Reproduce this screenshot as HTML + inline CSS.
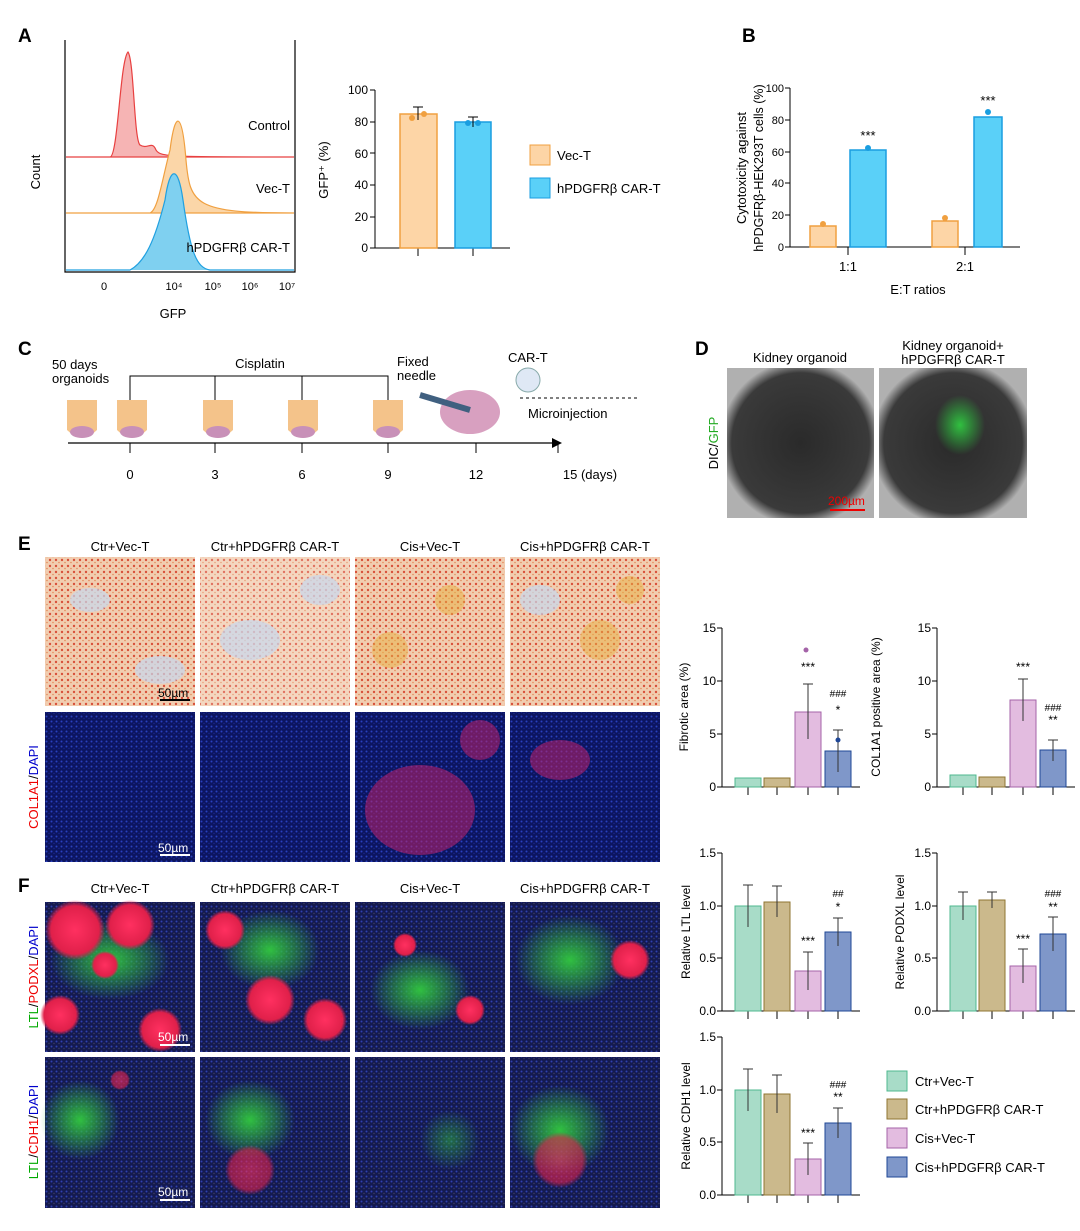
<!DOCTYPE html>
<html><head><meta charset="utf-8"><style>
body{margin:0;background:#fff;}
svg text{font-family:"Liberation Sans",sans-serif;}
</style></head><body>
<svg width="1080" height="1226" viewBox="0 0 1080 1226" xmlns="http://www.w3.org/2000/svg">
<defs>
<radialGradient id="red" cx="50%" cy="50%" r="50%"><stop offset="0" stop-color="#ff3060"/><stop offset="0.8" stop-color="#e0204a"/><stop offset="1" stop-color="#e0204a" stop-opacity="0"/></radialGradient>
<radialGradient id="grn" cx="50%" cy="50%" r="50%"><stop offset="0" stop-color="#30c040"/><stop offset="1" stop-color="#30c040" stop-opacity="0"/></radialGradient>
<radialGradient id="gray" cx="50%" cy="50%" r="55%"><stop offset="0" stop-color="#2a2a2a"/><stop offset="0.85" stop-color="#3a3a3a"/><stop offset="1" stop-color="#b0b0b0"/></radialGradient>
<pattern id="dots" width="6" height="6" patternUnits="userSpaceOnUse"><rect width="6" height="6" fill="#f1cdb0"/><circle cx="2" cy="2" r="1.2" fill="#d8503a"/><circle cx="5" cy="4.5" r="0.8" fill="#e48a5a"/></pattern>
<pattern id="blu" width="5" height="5" patternUnits="userSpaceOnUse"><rect width="5" height="5" fill="#0c1560"/><circle cx="1.5" cy="1.5" r="1" fill="#2a40c0"/><circle cx="4" cy="3.5" r="0.7" fill="#1a2890"/></pattern>
<pattern id="bluF" width="5" height="5" patternUnits="userSpaceOnUse"><rect width="5" height="5" fill="#141a50"/><circle cx="1.5" cy="1.5" r="1" fill="#3040b0"/><circle cx="4" cy="3.5" r="0.7" fill="#404060"/></pattern>
</defs>
<g font-size="13" fill="#000">
<!-- A -->
<text x="18" y="42" font-size="19" font-weight="bold">A</text>
<path d="M65 40 V272 H295 V40" fill="none" stroke="#000" stroke-width="1.2"/>
<path d="M66 157 H110 C118 157,120 60,128 52 C134 60,134 140,140 145 C148 150,152 140,156 150 C160 157,170 157,294 157 Z" fill="#f6b4b4" stroke="#e84040" stroke-width="1.2"/>
<path d="M66 213 H150 C158 210,162 180,170 150 C175 110,182 110,186 160 C190 205,195 213,294 213 Z" fill="#fbd6a8" stroke="#f0a040" stroke-width="1.2"/>
<path d="M66 270 H130 C145 262,155 240,165 200 C170 165,178 165,183 200 C190 250,196 268,210 270 H294" fill="#7fd0f0" stroke="#20a0e0" stroke-width="1.2"/>
<text x="290" y="130" text-anchor="end">Control</text>
<text x="290" y="193" text-anchor="end">Vec-T</text>
<text x="290" y="252" text-anchor="end">hPDGFRβ CAR-T</text>
<text x="40" y="172" transform="rotate(-90 40 172)" text-anchor="middle">Count</text>
<g font-size="11" text-anchor="middle"><text x="104" y="290">0</text><text x="174" y="290">10⁴</text><text x="213" y="290">10⁵</text><text x="250" y="290">10⁶</text><text x="287" y="290">10⁷</text></g>
<text x="173" y="318" text-anchor="middle">GFP</text>
<!-- A bar -->
<path d="M375 90 V248 H510" fill="none" stroke="#000"/>
<g font-size="12" text-anchor="end"><text x="368" y="94">100</text><text x="368" y="126">80</text><text x="368" y="158">60</text><text x="368" y="189">40</text><text x="368" y="221">20</text><text x="368" y="252">0</text></g>
<path d="M370 90H375M370 122H375M370 153H375M370 185H375M370 217H375M370 248H375M418 248V256M473 248V256" stroke="#000"/>
<rect x="400" y="114" width="37" height="134" fill="#fdd5a6" stroke="#f0a040" stroke-width="1.5"/>
<rect x="455" y="122" width="36" height="126" fill="#5ad0f8" stroke="#1a9ee0" stroke-width="1.5"/>
<path d="M418 107V120M413 107H423M473 117V127M468 117H478" stroke="#000"/>
<circle cx="412" cy="118" r="3" fill="#f0a040"/><circle cx="424" cy="114" r="3" fill="#f0a040"/><circle cx="468" cy="123" r="3" fill="#1a9ee0"/><circle cx="478" cy="123" r="3" fill="#1a9ee0"/>
<text x="328" y="170" transform="rotate(-90 328 170)" text-anchor="middle">GFP⁺ (%)</text>
<rect x="530" y="145" width="20" height="20" fill="#fdd5a6" stroke="#f0a040"/><text x="557" y="160">Vec-T</text>
<rect x="530" y="178" width="20" height="20" fill="#5ad0f8" stroke="#1a9ee0"/><text x="557" y="193">hPDGFRβ CAR-T</text>
<!-- B -->
<text x="742" y="42" font-size="19" font-weight="bold">B</text>
<path d="M790 88 V247 H1020" fill="none" stroke="#000"/>
<g font-size="11" text-anchor="end"><text x="784" y="92">100</text><text x="784" y="124">80</text><text x="784" y="156">60</text><text x="784" y="187">40</text><text x="784" y="219">20</text><text x="784" y="251">0</text></g>
<path d="M785 88H790M785 120H790M785 152H790M785 183H790M785 215H790M785 247H790M848 247V255M965 247V255" stroke="#000"/>
<rect x="810" y="226" width="26" height="21" fill="#fdd5a6" stroke="#f0a040" stroke-width="1.5"/>
<rect x="850" y="150" width="36" height="97" fill="#5ad0f8" stroke="#1a9ee0" stroke-width="1.5"/>
<rect x="932" y="221" width="26" height="26" fill="#fdd5a6" stroke="#f0a040" stroke-width="1.5"/>
<rect x="974" y="117" width="28" height="130" fill="#5ad0f8" stroke="#1a9ee0" stroke-width="1.5"/>
<circle cx="823" cy="224" r="3" fill="#f0a040"/><circle cx="945" cy="218" r="3" fill="#f0a040"/><circle cx="868" cy="148" r="3" fill="#1a9ee0"/><circle cx="988" cy="112" r="3" fill="#1a9ee0"/>
<text x="868" y="140" text-anchor="middle">***</text><text x="988" y="105" text-anchor="middle">***</text>
<text x="848" y="271" text-anchor="middle">1:1</text><text x="965" y="271" text-anchor="middle">2:1</text>
<text x="918" y="294" text-anchor="middle">E:T ratios</text>
<text x="746" y="168" transform="rotate(-90 746 168)" text-anchor="middle">Cytotoxicity against</text>
<text x="763" y="168" transform="rotate(-90 763 168)" text-anchor="middle" font-size="12.5">hPDGFRβ-HEK293T cells (%)</text>
<!-- C -->
<text x="18" y="355" font-size="19" font-weight="bold">C</text>
<text x="52" y="369">50 days</text><text x="52" y="383">organoids</text>
<text x="260" y="368" text-anchor="middle">Cisplatin</text>
<path d="M130 408V376H388V408M215 376V408M302 376V408" fill="none" stroke="#000"/>
<text x="397" y="366">Fixed</text><text x="397" y="380">needle</text>
<text x="508" y="362">CAR-T</text>
<circle cx="528" cy="380" r="12" fill="#dfe8f5" stroke="#8aa"/>
<text x="528" y="418">Microinjection</text>
<path d="M520 398H640" stroke="#000" stroke-dasharray="3,3"/>
<g fill="#f4c38a"><path d="M67 400H97V430Q82 445 67 430Z"/><path d="M117 400H147V430Q132 445 117 430Z"/><path d="M203 400H233V430Q218 445 203 430Z"/><path d="M288 400H318V430Q303 445 288 430Z"/><path d="M373 400H403V430Q388 445 373 430Z"/></g>
<g fill="#c890b8"><ellipse cx="82" cy="432" rx="12" ry="6"/><ellipse cx="132" cy="432" rx="12" ry="6"/><ellipse cx="218" cy="432" rx="12" ry="6"/><ellipse cx="303" cy="432" rx="12" ry="6"/><ellipse cx="388" cy="432" rx="12" ry="6"/></g>
<ellipse cx="470" cy="412" rx="30" ry="22" fill="#d8a0c0"/>
<path d="M420 395L470 410" stroke="#406080" stroke-width="6"/>
<path d="M68 443H558" stroke="#000" stroke-width="1.2"/><path d="M552 438L562 443L552 448Z"/>
<path d="M130 443V453M215 443V453M302 443V453M388 443V453M476 443V453M558 443V453" stroke="#000"/>
<g text-anchor="middle"><text x="130" y="479">0</text><text x="215" y="479">3</text><text x="302" y="479">6</text><text x="388" y="479">9</text><text x="476" y="479">12</text><text x="590" y="479">15 (days)</text></g>
<!-- D -->
<text x="695" y="355" font-size="19" font-weight="bold">D</text>
<text x="800" y="362" text-anchor="middle">Kidney organoid</text>
<text x="953" y="350" text-anchor="middle">Kidney organoid+</text>
<text x="953" y="364" text-anchor="middle">hPDGFRβ CAR-T</text>
<rect x="727" y="368" width="147" height="150" fill="url(#gray)"/>
<rect x="879" y="368" width="148" height="150" fill="url(#gray)"/>
<ellipse cx="960" cy="425" rx="25" ry="30" fill="url(#grn)"/>
<path d="M830 510H865" stroke="#e00" stroke-width="2"/><text x="828" y="505" fill="#e00" font-size="12">200µm</text>
<text x="718" y="443" transform="rotate(-90 718 443)" text-anchor="middle">DIC/<tspan fill="#2a2">GFP</tspan></text>
<!-- E -->
<text x="18" y="550" font-size="19" font-weight="bold">E</text>
<g text-anchor="middle"><text x="120" y="551">Ctr+Vec-T</text><text x="275" y="551">Ctr+hPDGFRβ CAR-T</text><text x="430" y="551">Cis+Vec-T</text><text x="585" y="551">Cis+hPDGFRβ CAR-T</text></g>
<rect x="45" y="557" width="150" height="149" fill="url(#dots)"/><rect x="200" y="557" width="150" height="149" fill="url(#dots)" opacity="0.8"/>
<rect x="355" y="557" width="150" height="149" fill="url(#dots)"/><rect x="510" y="557" width="150" height="149" fill="url(#dots)"/>
<g fill="#c8d8ee" opacity="0.7"><ellipse cx="90" cy="600" rx="20" ry="12"/><ellipse cx="160" cy="670" rx="25" ry="14"/><ellipse cx="250" cy="640" rx="30" ry="20"/><ellipse cx="320" cy="590" rx="20" ry="15"/><ellipse cx="540" cy="600" rx="20" ry="15"/></g>
<g fill="#e8b040" opacity="0.5"><circle cx="390" cy="650" r="18"/><circle cx="450" cy="600" r="15"/><circle cx="600" cy="640" r="20"/><circle cx="630" cy="590" r="14"/></g>
<path d="M160 700H190" stroke="#000" stroke-width="2"/><text x="158" y="697" font-size="12">50µm</text>
<rect x="45" y="712" width="150" height="150" fill="url(#blu)"/><rect x="200" y="712" width="150" height="150" fill="url(#blu)"/>
<rect x="355" y="712" width="150" height="150" fill="url(#blu)"/><rect x="510" y="712" width="150" height="150" fill="url(#blu)"/>
<g fill="#c0206a" opacity="0.55"><ellipse cx="420" cy="810" rx="55" ry="45"/><ellipse cx="480" cy="740" rx="20" ry="20"/><ellipse cx="560" cy="760" rx="30" ry="20"/></g>
<path d="M160 855H190" stroke="#fff" stroke-width="2"/><text x="158" y="852" font-size="12" fill="#fff">50µm</text>
<text x="38" y="787" transform="rotate(-90 38 787)" text-anchor="middle"><tspan fill="#e00">COL1A1</tspan>/<tspan fill="#00c">DAPI</tspan></text>
<!-- F -->
<text x="18" y="892" font-size="19" font-weight="bold">F</text>
<g text-anchor="middle"><text x="120" y="893">Ctr+Vec-T</text><text x="275" y="893">Ctr+hPDGFRβ CAR-T</text><text x="430" y="893">Cis+Vec-T</text><text x="585" y="893">Cis+hPDGFRβ CAR-T</text></g>
<rect x="45" y="902" width="150" height="150" fill="url(#bluF)"/><rect x="200" y="902" width="150" height="150" fill="url(#bluF)"/>
<rect x="355" y="902" width="150" height="150" fill="url(#bluF)"/><rect x="510" y="902" width="150" height="150" fill="url(#bluF)"/>
<rect x="45" y="1057" width="150" height="151" fill="url(#bluF)"/><rect x="200" y="1057" width="150" height="151" fill="url(#bluF)"/>
<rect x="355" y="1057" width="150" height="151" fill="url(#bluF)"/><rect x="510" y="1057" width="150" height="151" fill="url(#bluF)"/>
<g fill="url(#grn)"><ellipse cx="110" cy="960" rx="60" ry="40"/><ellipse cx="270" cy="950" rx="50" ry="40"/><ellipse cx="420" cy="990" rx="50" ry="40"/><ellipse cx="570" cy="960" rx="55" ry="45"/><ellipse cx="250" cy="1120" rx="45" ry="40"/><ellipse cx="560" cy="1130" rx="50" ry="45"/><ellipse cx="80" cy="1120" rx="40" ry="40"/><ellipse cx="450" cy="1140" rx="30" ry="30" opacity="0.5"/></g>
<g fill="url(#red)"><circle cx="75" cy="930" r="30"/><circle cx="130" cy="925" r="25"/><circle cx="60" cy="1015" r="20"/><circle cx="160" cy="1030" r="22"/><circle cx="105" cy="965" r="14"/><circle cx="225" cy="930" r="20"/><circle cx="270" cy="1000" r="25"/><circle cx="325" cy="1020" r="22"/><circle cx="405" cy="945" r="12"/><circle cx="470" cy="1010" r="15"/><circle cx="630" cy="960" r="20"/><circle cx="250" cy="1170" r="25" opacity="0.6"/><circle cx="560" cy="1160" r="28" opacity="0.6"/><circle cx="120" cy="1080" r="10" opacity="0.6"/></g>
<path d="M160 1045H190M160 1200H190" stroke="#fff" stroke-width="2"/><text x="158" y="1041" font-size="12" fill="#fff">50µm</text><text x="158" y="1196" font-size="12" fill="#fff">50µm</text>
<text x="38" y="977" transform="rotate(-90 38 977)" text-anchor="middle"><tspan fill="#0a0">LTL</tspan>/<tspan fill="#e00">PODXL</tspan>/<tspan fill="#00c">DAPI</tspan></text>
<text x="38" y="1132" transform="rotate(-90 38 1132)" text-anchor="middle"><tspan fill="#0a0">LTL</tspan>/<tspan fill="#e00">CDH1</tspan>/<tspan fill="#00c">DAPI</tspan></text>
<!-- small charts -->
<g font-size="12">
<path d="M722 628V787H860" fill="none" stroke="#000"/>
<g text-anchor="end"><text x="716" y="632">15</text><text x="716" y="685">10</text><text x="716" y="738">5</text><text x="716" y="791">0</text></g>
<path d="M717 628H722M717 681H722M717 734H722M717 787H722M748 787V795M777 787V795M808 787V795M838 787V795" stroke="#000"/>
<rect x="735" y="778" width="26" height="9" fill="#a8dcc8" stroke="#4fb88f"/><rect x="764" y="778" width="26" height="9" fill="#cbb98c" stroke="#8f7532"/>
<rect x="795" y="712" width="26" height="75" fill="#e3bce0" stroke="#a463a8"/><rect x="825" y="751" width="26" height="36" fill="#7f97c9" stroke="#1f4796"/>
<path d="M808 684V739M803 684H813M838 730V772M833 730H843" stroke="#333"/>
<text x="808" y="671" text-anchor="middle">***</text><text x="838" y="697" text-anchor="middle" font-size="10">###</text><text x="838" y="714" text-anchor="middle">*</text>
<circle cx="806" cy="650" r="2.5" fill="#a463a8"/><circle cx="838" cy="740" r="2.5" fill="#1f4796"/>
<text x="688" y="707" transform="rotate(-90 688 707)" text-anchor="middle">Fibrotic area (%)</text>
<path d="M937 628V787H1075" fill="none" stroke="#000"/>
<g text-anchor="end"><text x="931" y="632">15</text><text x="931" y="685">10</text><text x="931" y="738">5</text><text x="931" y="791">0</text></g>
<path d="M932 628H937M932 681H937M932 734H937M932 787H937M963 787V795M992 787V795M1023 787V795M1053 787V795" stroke="#000"/>
<rect x="950" y="775" width="26" height="12" fill="#a8dcc8" stroke="#4fb88f"/><rect x="979" y="777" width="26" height="10" fill="#cbb98c" stroke="#8f7532"/>
<rect x="1010" y="700" width="26" height="87" fill="#e3bce0" stroke="#a463a8"/><rect x="1040" y="750" width="26" height="37" fill="#7f97c9" stroke="#1f4796"/>
<path d="M1023 679V721M1018 679H1028M1053 740V761M1048 740H1058" stroke="#333"/>
<text x="1023" y="671" text-anchor="middle">***</text><text x="1053" y="711" text-anchor="middle" font-size="10">###</text><text x="1053" y="724" text-anchor="middle">**</text>
<text x="880" y="707" transform="rotate(-90 880 707)" text-anchor="middle">COL1A1 positive area (%)</text>
<path d="M722 853V1011H860" fill="none" stroke="#000"/>
<g text-anchor="end"><text x="716" y="857">1.5</text><text x="716" y="910">1.0</text><text x="716" y="962">0.5</text><text x="716" y="1015">0.0</text></g>
<path d="M717 853H722M717 906H722M717 958H722M717 1011H722M748 1011V1019M777 1011V1019M808 1011V1019M838 1011V1019" stroke="#000"/>
<rect x="735" y="906" width="26" height="105" fill="#a8dcc8" stroke="#4fb88f"/><rect x="764" y="902" width="26" height="109" fill="#cbb98c" stroke="#8f7532"/>
<rect x="795" y="971" width="26" height="40" fill="#e3bce0" stroke="#a463a8"/><rect x="825" y="932" width="26" height="79" fill="#7f97c9" stroke="#1f4796"/>
<path d="M748 885V927M743 885H753M777 886V917M772 886H782M808 952V990M803 952H813M838 918V946M833 918H843" stroke="#333"/>
<text x="808" y="945" text-anchor="middle">***</text><text x="838" y="897" text-anchor="middle" font-size="10">##</text><text x="838" y="911" text-anchor="middle">*</text>
<text x="690" y="932" transform="rotate(-90 690 932)" text-anchor="middle">Relative LTL level</text>
<path d="M937 853V1011H1075" fill="none" stroke="#000"/>
<g text-anchor="end"><text x="931" y="857">1.5</text><text x="931" y="910">1.0</text><text x="931" y="962">0.5</text><text x="931" y="1015">0.0</text></g>
<path d="M932 853H937M932 906H937M932 958H937M932 1011H937M963 1011V1019M992 1011V1019M1023 1011V1019M1053 1011V1019" stroke="#000"/>
<rect x="950" y="906" width="26" height="105" fill="#a8dcc8" stroke="#4fb88f"/><rect x="979" y="900" width="26" height="111" fill="#cbb98c" stroke="#8f7532"/>
<rect x="1010" y="966" width="26" height="45" fill="#e3bce0" stroke="#a463a8"/><rect x="1040" y="934" width="26" height="77" fill="#7f97c9" stroke="#1f4796"/>
<path d="M963 892V920M958 892H968M992 892V908M987 892H997M1023 949V983M1018 949H1028M1053 917V951M1048 917H1058" stroke="#333"/>
<text x="1023" y="943" text-anchor="middle">***</text><text x="1053" y="897" text-anchor="middle" font-size="10">###</text><text x="1053" y="911" text-anchor="middle">**</text>
<text x="904" y="932" transform="rotate(-90 904 932)" text-anchor="middle">Relative PODXL level</text>
<path d="M722 1037V1195H860" fill="none" stroke="#000"/>
<g text-anchor="end"><text x="716" y="1041">1.5</text><text x="716" y="1094">1.0</text><text x="716" y="1146">0.5</text><text x="716" y="1199">0.0</text></g>
<path d="M717 1037H722M717 1090H722M717 1142H722M717 1195H722M748 1195V1203M777 1195V1203M808 1195V1203M838 1195V1203" stroke="#000"/>
<rect x="735" y="1090" width="26" height="105" fill="#a8dcc8" stroke="#4fb88f"/><rect x="764" y="1094" width="26" height="101" fill="#cbb98c" stroke="#8f7532"/>
<rect x="795" y="1159" width="26" height="36" fill="#e3bce0" stroke="#a463a8"/><rect x="825" y="1123" width="26" height="72" fill="#7f97c9" stroke="#1f4796"/>
<path d="M748 1069V1111M743 1069H753M777 1075V1113M772 1075H782M808 1143V1175M803 1143H813M838 1108V1138M833 1108H843" stroke="#333"/>
<text x="808" y="1137" text-anchor="middle">***</text><text x="838" y="1088" text-anchor="middle" font-size="10">###</text><text x="838" y="1101" text-anchor="middle">**</text>
<text x="690" y="1116" transform="rotate(-90 690 1116)" text-anchor="middle">Relative CDH1 level</text>
</g>
<rect x="887" y="1071" width="20" height="20" fill="#a8dcc8" stroke="#4fb88f"/><text x="915" y="1086">Ctr+Vec-T</text>
<rect x="887" y="1099" width="20" height="20" fill="#cbb98c" stroke="#8f7532"/><text x="915" y="1114">Ctr+hPDGFRβ CAR-T</text>
<rect x="887" y="1128" width="20" height="20" fill="#e3bce0" stroke="#a463a8"/><text x="915" y="1143">Cis+Vec-T</text>
<rect x="887" y="1157" width="20" height="20" fill="#7f97c9" stroke="#1f4796"/><text x="915" y="1172">Cis+hPDGFRβ CAR-T</text>
</g>
</svg>
</body></html>
